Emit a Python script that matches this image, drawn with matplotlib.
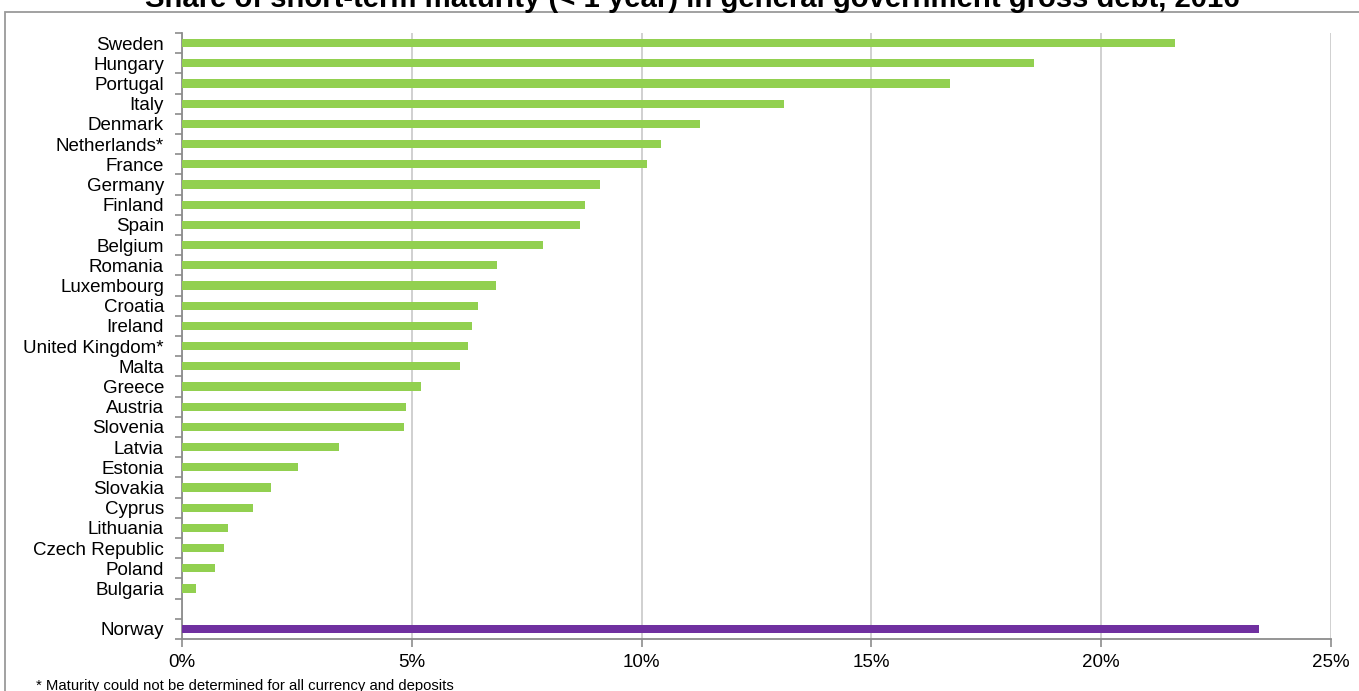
import numpy as np
import matplotlib
matplotlib.use("Agg")
import matplotlib.pyplot as plt
from matplotlib.patches import Rectangle
from matplotlib.ticker import FuncFormatter, FixedLocator

plt.rcParams.update({
    "font.family": ["Liberation Sans", "DejaVu Sans"],
    "figure.dpi": 100, "savefig.dpi": 100,
})

# Countries top to bottom; "" is the empty row before Norway
countries = ["Sweden", "Hungary", "Portugal", "Italy", "Denmark", "Netherlands*",
             "France", "Germany", "Finland", "Spain", "Belgium", "Romania",
             "Luxembourg", "Croatia", "Ireland", "United Kingdom*", "Malta",
             "Greece", "Austria", "Slovenia", "Latvia", "Estonia", "Slovakia",
             "Cyprus", "Lithuania", "Czech Republic", "Poland", "Bulgaria",
             "", "Norway"]
share_pct = [21.60, 18.53, 16.70, 13.10, 11.26, 10.42,
             10.12, 9.09, 8.76, 8.67, 7.85, 6.85,
             6.84, 6.44, 6.32, 6.22, 6.04,
             5.19, 4.87, 4.82, 3.42, 2.52, 1.93,
             1.54, 0.99, 0.91, 0.72, 0.30,
             np.nan, 23.43]
x_ticks = [0, 5, 10, 15, 20, 25]

GREEN = "#92D050"
PURPLE = "#7030A0"
AXIS_GREY = "#8C8C8C"
GRID_GREY = "#C8C8C8"

colors = [PURPLE if c == "Norway" else GREEN for c in countries]
ypos = np.arange(len(countries))
vals = np.nan_to_num(np.array(share_pct, dtype=float))

fig = plt.figure(figsize=(13.59, 6.91))
W, H = 1359, 691
ax = fig.add_axes([182 / W, 1 - 639 / H, (1331 - 182) / W, (639 - 33) / H])

ax.barh(ypos, vals, height=0.4, color=colors, edgecolor="none", zorder=3)

ax.set_xlim(0, 25)
ax.set_ylim(len(countries) - 0.5, -0.5)

ax.set_xticks(x_ticks)
ax.xaxis.set_major_formatter(FuncFormatter(lambda v, _: f"{v:.0f}%"))
ax.grid(axis="x", color=GRID_GREY, lw=1.2, zorder=0)
ax.set_axisbelow(True)

ax.set_yticks(ypos)
ax.set_yticklabels(countries)
ax.yaxis.set_minor_locator(FixedLocator(np.arange(-0.5, len(countries), 1.0)))
ax.tick_params(axis="y", which="major", length=0, pad=13, labelsize=13.5)
ax.tick_params(axis="y", which="minor", length=5, width=1.2, color=AXIS_GREY, direction="out")
ax.tick_params(axis="x", length=6, width=1.2, color=AXIS_GREY, direction="out",
               labelsize=13.5, pad=5)

for side in ("top", "right"):
    ax.spines[side].set_visible(False)
for side in ("left", "bottom"):
    ax.spines[side].set_color(AXIS_GREY)
    ax.spines[side].set_linewidth(1.3)

# chart border (cut by the image edges)
fig.patches.append(Rectangle((5 / W, -0.05), 1.05, 1 - 12 / H + 0.05,
                             transform=fig.transFigure, fill=False,
                             edgecolor="#9A9A9A", lw=1.3))

fig.text(692 / W, 1 - 7 / H,
         "Share of short-term maturity (< 1 year) in general government gross debt, 2016",
         ha="center", va="baseline", fontsize=21.1, fontweight="bold")
fig.text(36 / W, 1 - 690 / H,
         "* Maturity could not be determined for all currency and deposits",
         ha="left", va="baseline", fontsize=10.7)

fig.savefig("out.png")
